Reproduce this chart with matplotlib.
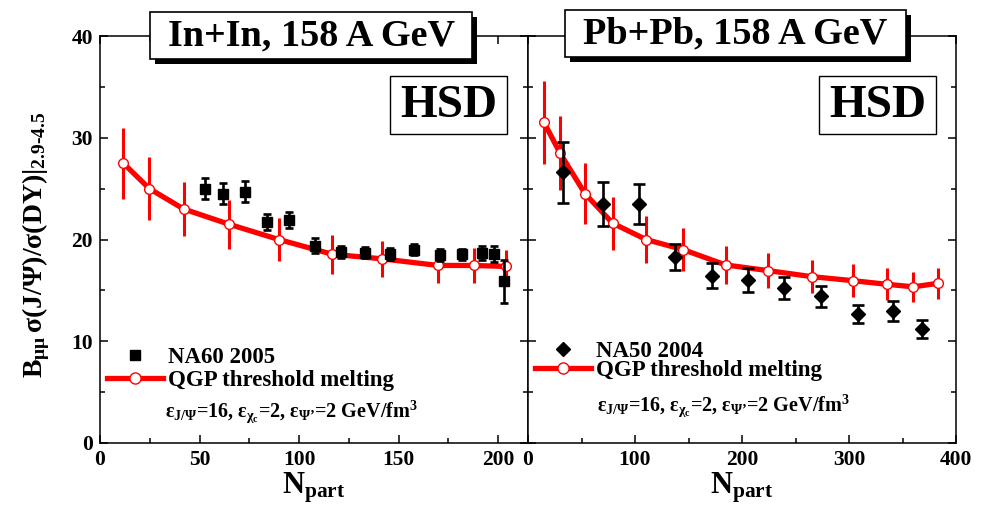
import matplotlib
matplotlib.use('Agg')
import matplotlib.pyplot as plt
from matplotlib.patches import Rectangle
from matplotlib.lines import Line2D
from matplotlib.ticker import MultipleLocator

plt.rcParams.update({
    'font.family': ['Liberation Serif', 'DejaVu Serif'],
    'font.weight': 'bold',
    'mathtext.fontset': 'custom',
    'mathtext.rm': 'Liberation Serif:bold',
    'mathtext.it': 'Liberation Serif:bold',
    'mathtext.bf': 'Liberation Serif:bold',
    'mathtext.sf': 'Liberation Serif:bold',
    'axes.linewidth': 1.1,
})

# ---------------- data ----------------
# In+In, HSD QGP threshold melting
inin_hsd_x = [11.7, 24.8, 42.0, 64.8, 89.8, 116.7, 141.7, 169.8, 187.7, 204.0]
inin_hsd_y = [27.5, 25.0, 23.0, 21.5, 20.0, 18.55, 18.1, 17.45, 17.45, 17.35]
inin_hsd_err = [3.5, 3.1, 2.7, 2.4, 2.15, 1.9, 1.8, 1.75, 1.7, 1.6]
# NA60 2005
na60_x = [52.8, 62.0, 72.9, 84.1, 94.8, 108.0, 121.0, 133.0, 145.9, 157.8, 170.9, 181.9, 192.0, 197.8, 202.7]
na60_y = [25.0, 24.5, 24.7, 21.7, 21.9, 19.4, 18.8, 18.7, 18.6, 19.0, 18.45, 18.55, 18.65, 18.6, 15.9]
na60_err = [1.05, 1.05, 1.05, 0.8, 0.8, 0.7, 0.6, 0.55, 0.6, 0.55, 0.6, 0.55, 0.7, 0.8, 2.1]
# Pb+Pb, HSD QGP threshold melting
pbpb_hsd_x = [15.0, 29.9, 53.3, 79.1, 110.3, 145.2, 184.7, 223.9, 265.1, 304.1, 335.2, 360.2, 383.5]
pbpb_hsd_y = [31.5, 28.5, 24.5, 21.6, 20.0, 19.0, 17.5, 16.95, 16.35, 15.95, 15.6, 15.35, 15.7]
pbpb_hsd_err = [4.05, 3.6, 3.0, 2.6, 2.3, 2.1, 1.85, 1.7, 1.6, 1.6, 1.55, 1.5, 1.5]
# NA50 2004
na50_x = [33.0, 69.8, 104.1, 137.4, 171.6, 205.9, 239.6, 274.0, 308.0, 341.4, 367.9]
na50_y = [26.6, 23.5, 23.5, 18.3, 16.45, 16.0, 15.25, 14.4, 12.65, 12.95, 11.2]
na50_err = [3.0, 2.15, 2.0, 1.3, 1.2, 1.15, 1.08, 1.06, 0.9, 0.97, 0.87]

xticks_left = [0, 50, 100, 150, 200]
xticks_right = [0, 100, 200, 300, 400]
yticks = [0, 10, 20, 30, 40]

W, H = 985, 505
fig = plt.figure(figsize=(W / 100, H / 100), dpi=100)

def fx(px):
    return px / W

def fy(py):
    return 1 - py / H

axL = fig.add_axes([fx(100), fy(443), (528 - 100) / W, (443 - 36) / H])
axR = fig.add_axes([fx(528), fy(443), (956 - 528) / W, (443 - 36) / H])

red = '#ff0000'

def draw_model(ax, x, y, err):
    ax.errorbar(x, y, yerr=err, fmt='none', ecolor=red, elinewidth=2.2, capsize=0, zorder=2)
    ax.plot(x, y, '-', color=red, lw=3.8, marker='o', ms=7, mfc='white',
            mec=red, mew=1.0, zorder=3)

def draw_data(ax, x, y, err, marker, ms, cap):
    ax.errorbar(x, y, yerr=err, fmt=marker, color='black', ms=ms, elinewidth=1.9,
                capsize=cap, capthick=1.9, zorder=4)

draw_model(axL, inin_hsd_x, inin_hsd_y, inin_hsd_err)
draw_data(axL, na60_x, na60_y, na60_err, 's', 7, 3.2)
draw_model(axR, pbpb_hsd_x, pbpb_hsd_y, pbpb_hsd_err)
draw_data(axR, na50_x, na50_y, na50_err, 'D', 7.5, 4.5)

for ax, xl, xt, minor in [(axL, (0, 215), xticks_left, 25), (axR, (0, 400), xticks_right, 50)]:
    ax.set_xlim(*xl)
    ax.set_ylim(0, 40)
    ax.set_xticks(xt)
    ax.set_yticks(yticks)
    ax.xaxis.set_minor_locator(MultipleLocator(minor))
    ax.yaxis.set_minor_locator(MultipleLocator(5))
    ax.tick_params(which='both', direction='in', top=True, right=True, width=1.1)
    ax.tick_params(which='major', length=5.5, labelsize=15.5, pad=5)
    ax.tick_params(which='minor', length=3.5)
    for lab in ax.get_xticklabels() + ax.get_yticklabels():
        lab.set_fontweight('bold')
    ax.set_xlabel(r'$\mathrm{N}_{\mathrm{part}}$', fontsize=22, labelpad=0)

axR.tick_params(labelleft=False)

# y label
fig.text(fx(36), fy(245), r'$\mathrm{B}_{\mu\mu}\,\sigma(J/\Psi)/\sigma(DY)|_{2.9‐4.5}$',
         rotation=90, ha='center', va='center', fontsize=20)

# legends
hd_sq = Line2D([], [], ls='none', marker='s', color='black', ms=7)
hd_di = Line2D([], [], ls='none', marker='D', color='black', ms=7.5)
hd_ln = Line2D([], [], ls='-', color=red, lw=3.8, marker='o', ms=8, mfc='white', mec=red, mew=1.0)

legL = axL.legend([hd_sq, hd_ln], ['NA60 2005', 'QGP threshold melting'], loc='center left',
                  bbox_to_anchor=((107 - 100) / 428, (443 - 369) / 407), frameon=False,
                  borderpad=0, borderaxespad=0, handlelength=2.45, handletextpad=0.22,
                  labelspacing=0.1, numpoints=1, prop={'size': 16.5, 'weight': 'bold'})
legR = axR.legend([hd_di, hd_ln], ['NA50 2004', 'QGP threshold melting'], loc='center left',
                  bbox_to_anchor=((535 - 528) / 428, (443 - 361) / 407), frameon=False,
                  borderpad=0, borderaxespad=0, handlelength=2.45, handletextpad=0.22,
                  labelspacing=-0.05, numpoints=1, prop={'size': 16.5, 'weight': 'bold'})

eps = r"$\epsilon_{J/\Psi}$=16, $\epsilon_{\chi_c}$=2, $\epsilon_{\Psi’}$=2 GeV/fm$^3$"
axL.text((165 - 100) / 428, (443 - 417) / 407, eps, transform=axL.transAxes,
         fontsize=14.5, ha='left', va='baseline')
axR.text((597 - 528) / 428, (443 - 411) / 407, eps, transform=axR.transAxes,
         fontsize=14.5, ha='left', va='baseline')

# boxes
def box(x0, y0, x1, y1, shadow=0, lw=1.2):
    if shadow:
        fig.add_artist(Rectangle((fx(x0 + shadow), fy(y1 + shadow)), (x1 - x0) / W, (y1 - y0) / H,
                                 transform=fig.transFigure, facecolor='black', edgecolor='black',
                                 lw=0, zorder=5))
    fig.add_artist(Rectangle((fx(x0), fy(y1)), (x1 - x0) / W, (y1 - y0) / H,
                             transform=fig.transFigure, facecolor='white', edgecolor='black',
                             lw=lw, zorder=6))

box(150, 12, 472, 59, shadow=5)
fig.text(fx(312), fy(36), 'In+In, 158 A GeV', ha='center', va='center', fontsize=27.5, zorder=7)
box(565, 10, 906, 57, shadow=5)
fig.text(fx(735), fy(34), 'Pb+Pb, 158 A GeV', ha='center', va='center', fontsize=27.5, zorder=7)

box(390, 76, 507, 134, lw=1.0)
fig.text(fx(449), fy(106), 'HSD', ha='center', va='center', fontsize=34, zorder=7)
box(819, 76, 936, 134, lw=1.0)
fig.text(fx(878), fy(106), 'HSD', ha='center', va='center', fontsize=34, zorder=7)

fig.savefig('out.png', dpi=100)
